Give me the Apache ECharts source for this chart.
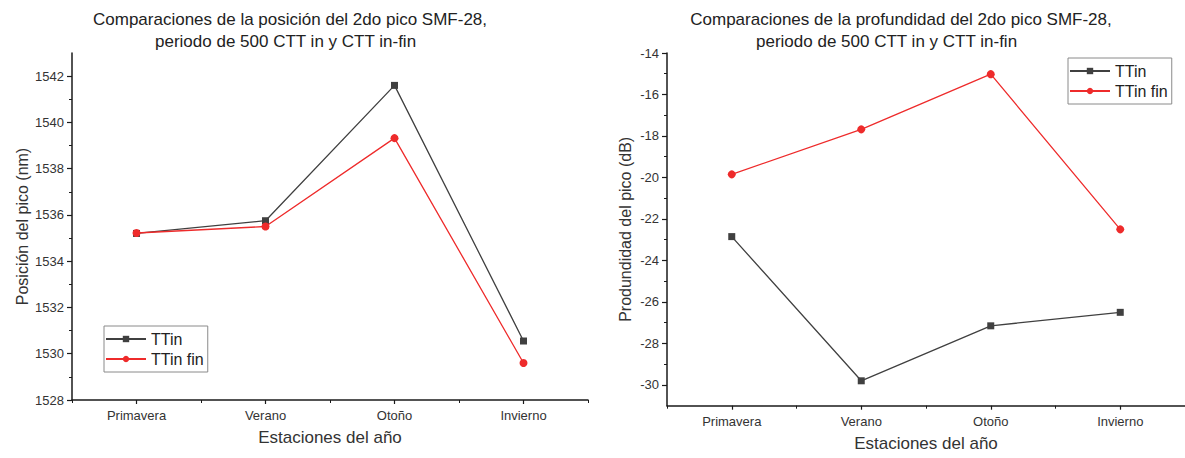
<!DOCTYPE html>
<html>
<head>
<meta charset="utf-8">
<script src="https://cdn.jsdelivr.net/npm/echarts@6/dist/echarts.min.js"></script>
<style>
html,body{margin:0;padding:0;background:#fff;}
#c{width:1185px;height:458px;}
</style>
</head>
<body>
<div id="c"></div>
<script>
const seasons = ['Primavera', 'Verano', 'Otoño', 'Invierno'];
const posTTin = [1535.2, 1535.75, 1541.6, 1530.55];
const posTTinFin = [1535.22, 1535.5, 1539.32, 1529.6];
const depTTin = [-22.85, -29.8, -27.15, -26.5];
const depTTinFin = [-19.85, -17.68, -15.02, -22.5];
const posTicks = [1528, 1530, 1532, 1534, 1536, 1538, 1540, 1542];
const posMinor = [1529, 1531, 1533, 1535, 1537, 1539, 1541];
const depTicks = [-30, -28, -26, -24, -22, -20, -18, -16, -14];
const depMinor = [-29, -27, -25, -23, -21, -19, -17, -15];
const posRange = [1528, 1543];
const depRange = [-31, -14];
const seriesNames = ['TTin', 'TTin fin'];

const FONT = '"Liberation Sans", Arial, sans-serif';
const AX = '#1a1a1a';
const BLACK = '#404040';
const RED = '#ee2b2b';

function catAxis(grid, main) {
  return {
    type: 'category', gridIndex: grid, data: seasons, position: 'bottom',
    boundaryGap: true,
    axisLine: { show: main, onZero: false, lineStyle: { color: AX, width: 1.5 } },
    axisTick: main ? { show: true, alignWithLabel: true, interval: 0, length: 4, lineStyle: { color: AX, width: 1.2 } }
                   : { show: true, interval: 0, length: 3, lineStyle: { color: AX, width: 1 } },
    axisLabel: main ? { show: true, interval: 0, margin: 9, color: '#333', fontSize: 13, fontFamily: FONT } : { show: false },
    name: main ? 'Estaciones del año' : '',
    nameLocation: 'middle', nameGap: 29,
    nameTextStyle: { fontSize: 17, color: '#333', fontFamily: FONT },
    splitLine: { show: false }
  };
}
function valAxis(grid, range, ticks, minor, name, gap, main) {
  return {
    type: 'value', gridIndex: grid, position: 'left', min: range[0], max: range[1],
    axisLine: { show: main, lineStyle: { color: AX, width: 1.5 } },
    axisTick: main ? { show: true, customValues: ticks, length: 5, lineStyle: { color: AX, width: 1.2 } }
                   : { show: true, customValues: minor, length: 3, lineStyle: { color: AX, width: 1 } },
    axisLabel: main ? { show: true, customValues: ticks, margin: 8, color: '#333', fontSize: 13, fontFamily: FONT,
                        formatter: v => String(v) } : { show: false },
    splitLine: { show: false },
    name: main ? name : '', nameLocation: 'middle', nameGap: gap, nameRotate: 90,
    nameTextStyle: { fontSize: 16, color: '#333', fontFamily: FONT }
  };
}
function lineSeries(name, data, xi, yi) {
  const isRed = name === seriesNames[1];
  return {
    type: 'line', name: name, data: data, xAxisIndex: xi, yAxisIndex: yi,
    symbol: isRed ? 'circle' : 'rect', symbolSize: isRed ? 8 : 7,
    itemStyle: { color: isRed ? RED : BLACK },
    lineStyle: { color: isRed ? RED : BLACK, width: 1.3 },
    emphasis: { disabled: true }, animation: false, z: isRed ? 3 : 2
  };
}
function legend(left, top) {
  return {
    show: true, orient: 'vertical', left: left, top: top,
    data: seriesNames, itemWidth: 40, itemHeight: 8, itemGap: 4,
    padding: [5, 4, 5, 1], borderColor: '#8a8a8a', borderWidth: 1,
    textStyle: { fontSize: 16, color: '#222', fontFamily: FONT, lineHeight: 16 },
    selectedMode: false
  };
}
const titleStyle = { fontSize: 17, fontWeight: 'normal', color: '#222', fontFamily: FONT };

const chart = echarts.init(document.getElementById('c'), null, { renderer: 'svg' });
const opt = {
  backgroundColor: '#fff',
  animation: false,
  textStyle: { fontFamily: FONT },
  title: [
    { text: 'Comparaciones de la posición del 2do pico SMF-28,', left: 290, top: 11, textAlign: 'center', padding: 0, textStyle: titleStyle },
    { text: 'periodo de 500 CTT in y CTT in-fin', left: 155, top: 33, padding: 0, textStyle: titleStyle },
    { text: 'Comparaciones de la profundidad del 2do pico SMF-28,', left: 901, top: 11, textAlign: 'center', padding: 0, textStyle: titleStyle },
    { text: 'periodo de 500 CTT in y CTT in-fin', left: 756, top: 33, padding: 0, textStyle: titleStyle }
  ],
  legend: [legend(104, 326), legend(1068, 58)],
  grid: [
    { left: 72, top: 53, width: 516, height: 347, containLabel: false },
    { left: 667, top: 53, width: 520, height: 352.7, containLabel: false }
  ],
  xAxis: [catAxis(0, true), catAxis(0, false), catAxis(1, true), catAxis(1, false)],
  yAxis: [
    valAxis(0, posRange, posTicks, posMinor, 'Posición del pico (nm)', 42, true),
    valAxis(0, posRange, posTicks, posMinor, '', 42, false),
    valAxis(1, depRange, depTicks, depMinor, 'Produndidad del pico (dB)', 34, true),
    valAxis(1, depRange, depTicks, depMinor, '', 34, false)
  ],
  series: [
    lineSeries(seriesNames[0], posTTin, 0, 0),
    lineSeries(seriesNames[1], posTTinFin, 0, 0),
    lineSeries(seriesNames[0], depTTin, 2, 2),
    lineSeries(seriesNames[1], depTTinFin, 2, 2)
  ]
};
chart.setOption(opt);
</script>
</body>
</html>
